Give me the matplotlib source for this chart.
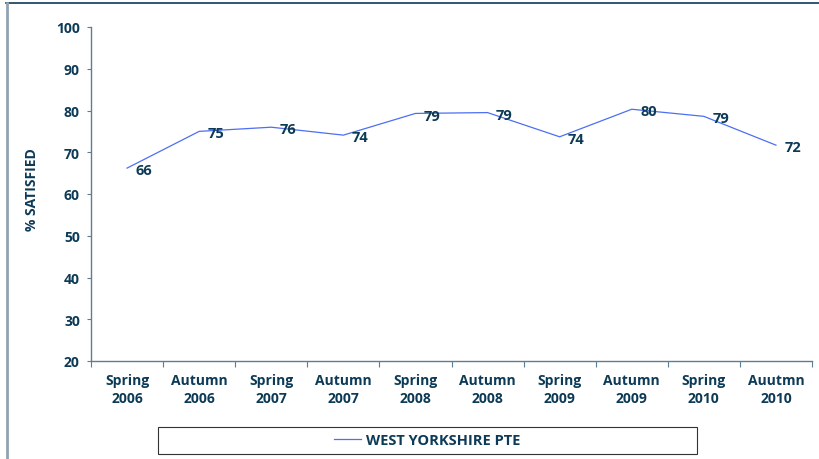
import matplotlib
matplotlib.use('Agg')
import matplotlib.pyplot as plt
from matplotlib.patches import Rectangle
from matplotlib.lines import Line2D

periods = ['Spring\n2006', 'Autumn\n2006', 'Spring\n2007', 'Autumn\n2007', 'Spring\n2008',
           'Autumn\n2008', 'Spring\n2009', 'Autumn\n2009', 'Spring\n2010', 'Auutmn\n2010']
satisfied = [66.2, 75.0, 76.0, 74.1, 79.3, 79.5, 73.7, 80.3, 78.6, 71.7]
point_labels = ['66', '75', '76', '74', '79', '79', '74', '80', '79', '72']
series_name = 'WEST YORKSHIRE PTE'

navy = '#0d3a56'
spine_col = '#5f7d92'
line_col = '#4d6ff2'

plt.rcParams['font.family'] = ['Open Sans', 'DejaVu Sans']

fig = plt.figure(figsize=(8.19, 4.60), dpi=100)
ax = fig.add_axes([91 / 819, 1 - 362 / 460, (812 - 91) / 819, (362 - 28) / 460])

x = list(range(len(periods)))
ax.plot(x, satisfied, color=line_col, lw=0.9)

for xi, yi, lab in zip(x, satisfied, point_labels):
    ax.annotate(lab, (xi, yi), xytext=(6, -1.5), textcoords='offset points',
                ha='left', va='center', fontsize=10.5, fontweight='bold', color=navy)

ax.set_ylim(20, 100)
ax.set_yticks(range(20, 101, 10))
ax.set_xlim(-0.5, len(periods) - 0.5)
ax.set_xticks([i - 0.5 for i in range(len(periods) + 1)])
ax.set_xticklabels([])
ax.set_xticks(x, minor=True)
ax.set_xticklabels(periods, minor=True, linespacing=1.35)
ax.tick_params(axis='x', which='major', direction='out', length=4, color=spine_col)
ax.tick_params(axis='x', which='minor', length=0, pad=9)
ax.tick_params(axis='y', direction='out', length=3, color=spine_col, pad=5)

for lab in ax.get_xticklabels(minor=True) + ax.get_yticklabels():
    lab.set_fontweight('bold')
    lab.set_fontsize(10)
    lab.set_color(navy)

for side in ['top', 'right']:
    ax.spines[side].set_visible(False)
for side in ['left', 'bottom']:
    ax.spines[side].set_color(spine_col)
    ax.spines[side].set_linewidth(1.0)

ax.set_ylabel('% SATISFIED', fontsize=10, fontweight='bold', color=navy)
ax.yaxis.set_label_coords((39 - 91) / (812 - 91), (362 - 190) / (362 - 28))

# legend box
bx, by, bw, bh = 158 / 819, 1 - 455 / 460, (697 - 158) / 819, 27 / 460
fig.patches.append(Rectangle((bx, by), bw, bh, transform=fig.transFigure,
                             fill=False, edgecolor='#333333', lw=0.8))
handle = Line2D([], [], color=line_col, lw=0.9)
fig.legend([handle], [series_name], loc='center', bbox_to_anchor=(bx + bw / 2, by + bh / 2),
           frameon=False, handlelength=1.8, handletextpad=0.4,
           prop={'weight': 'bold', 'size': 10.5}, labelcolor=navy)

# outer frame lines
fig.add_artist(Line2D([6 / 819, 1], [1 - 4 / 460, 1 - 4 / 460], transform=fig.transFigure,
                      color=navy, lw=1.2))
fig.add_artist(Line2D([6.5 / 819, 6.5 / 819], [0, 1 - 4 / 460], transform=fig.transFigure,
                      color='#8fa3b3', lw=2))

fig.savefig('out.png', dpi=100)
